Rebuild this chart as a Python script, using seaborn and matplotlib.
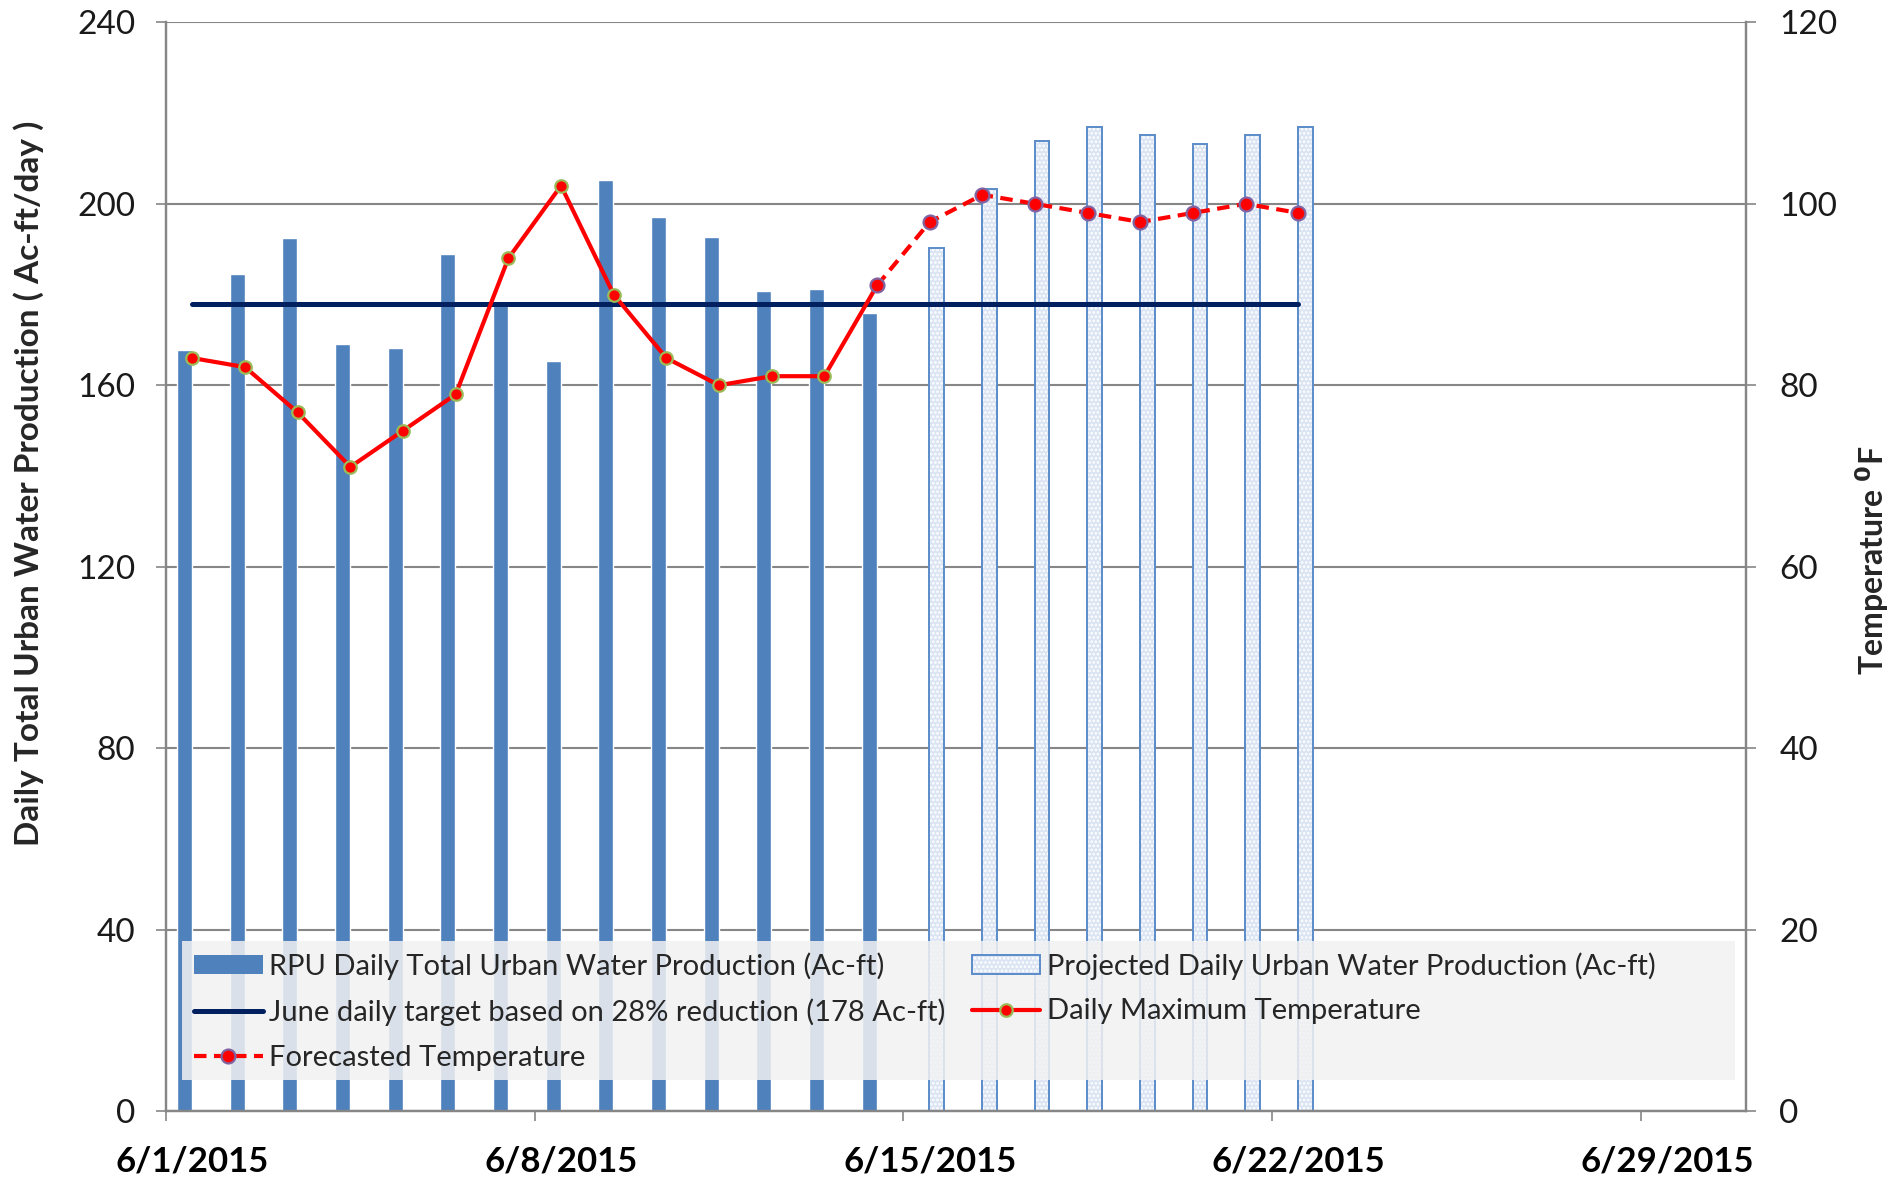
import matplotlib.pyplot as plt
import matplotlib.dates as mdates
from matplotlib.patches import Patch, Rectangle
from matplotlib.legend_handler import HandlerTuple
import pandas as pd
import seaborn as sns

# daily production (Ac-ft)
actual_dates = pd.date_range("2015-06-01", "2015-06-14")
actual_prod = [167.8, 184.5, 192.5, 169.2, 168.2, 189, 178.5, 165.3, 205.2, 197.2, 192.7, 180.8, 181.3, 176]
proj_dates = pd.date_range("2015-06-15", "2015-06-22")
proj_prod = [190.2, 203.2, 213.8, 217, 215.1, 213.3, 215.1, 217]

# temperatures (F)
max_temp_dates = pd.date_range("2015-06-01", "2015-06-14")
max_temp = [83, 82, 77, 71, 75, 79, 94, 102, 90, 83, 80, 81, 81, 91]
fc_dates = pd.date_range("2015-06-14", "2015-06-22")
fc_temp = [91, 98, 101, 100, 99, 98, 99, 100, 99]

# June target
target_dates = pd.date_range("2015-06-01", "2015-06-22")
TARGET = 178

x_ticks = pd.date_range("2015-06-01", "2015-06-29", freq="7D")

lbl_actual = "RPU Daily Total Urban Water Production (Ac-ft)"
lbl_proj = "Projected Daily Urban Water Production (Ac-ft)"
lbl_target = "June daily target based on 28% reduction (178 Ac-ft)"
lbl_max = "Daily Maximum Temperature"
lbl_fc = "Forecasted Temperature"

sns.set_theme(style="white")
plt.rcParams["font.family"] = ["Lato", "DejaVu Sans"]
plt.rcParams["hatch.color"] = "#94b1dc"
plt.rcParams["hatch.linewidth"] = 1.3

BLUE = "#4f81bd"
GRID = "#868686"
PROJ_FACE = "#dae4f3"

fig, ax = plt.subplots(figsize=(19.02, 11.80), dpi=100)
fig.subplots_adjust(left=0.0873, right=0.918, bottom=0.0585, top=0.981)
ax2 = ax.twinx()

# bars sit in the day slot, actual left / projected right
xa = mdates.date2num(actual_dates)
xp = mdates.date2num(proj_dates)
ax.bar(xa + 0.35, actual_prod, width=0.28, color=BLUE, zorder=2)
ax.bar(xp + 0.63, proj_prod, width=0.28, facecolor=PROJ_FACE, hatch="....",
       linewidth=0, zorder=2)
ax.bar(xp + 0.63, proj_prod, width=0.28, fill=False, edgecolor="#5b8cc9",
       linewidth=1.4, zorder=2)

tdf = pd.DataFrame({"x": mdates.date2num(target_dates) + 0.5, "y": [TARGET] * len(target_dates)})
sns.lineplot(data=tdf, x="x", y="y", ax=ax, color="#002060", linewidth=3.6,
             solid_capstyle="round", zorder=3, label=lbl_target)

mdf = pd.DataFrame({"x": mdates.date2num(max_temp_dates) + 0.5, "y": max_temp})
fdf = pd.DataFrame({"x": mdates.date2num(fc_dates) + 0.5, "y": fc_temp})
sns.lineplot(data=mdf, x="x", y="y", ax=ax2, color="red", linewidth=3,
             marker="o", markersize=9, markerfacecolor="red",
             markeredgecolor="#9bbb59", markeredgewidth=1.6, label=lbl_max)
sns.lineplot(data=fdf, x="x", y="y", ax=ax2, color="red", linewidth=3,
             linestyle=(0, (3, 1.8)), marker="o", markersize=10,
             markerfacecolor="red", markeredgecolor="#8064a2",
             markeredgewidth=1.6, label=lbl_fc)

# axes ranges and ticks
ax.set_xlim(mdates.date2num(pd.Timestamp("2015-06-01")), mdates.date2num(pd.Timestamp("2015-07-01")))
ax.set_ylim(0, 240)
ax.set_yticks(range(0, 241, 40))
ax2.set_ylim(0, 120)
ax2.set_yticks(range(0, 121, 20))
# tick marks at the start of the day, labels centred in the day slot
ax.set_xticks(mdates.date2num(x_ticks))
ax.set_xticklabels([])
ax.set_xticks(mdates.date2num(x_ticks) + 0.5, minor=True)
ax.set_xticklabels([f"{d.month}/{d.day}/{d.year}" for d in x_ticks], minor=True,
                   fontweight="bold")

ax.yaxis.grid(True, color=GRID, linewidth=1.5)
ax.set_axisbelow(True)
for a in (ax, ax2):
    for side in ("left", "right", "bottom"):
        a.spines[side].set_color(GRID)
        a.spines[side].set_linewidth(1.6)
    a.spines["top"].set_visible(False)
    a.set_xlabel("")

ax.tick_params(axis="y", direction="out", length=7, width=1.2, color=GRID,
               pad=15, labelsize=24, labelcolor="#1a1a1a", left=True)
ax.tick_params(axis="x", which="major", direction="out", length=7, width=1.2,
               color=GRID, bottom=True)
ax.tick_params(axis="x", which="minor", length=0, pad=25, labelsize=25,
               labelcolor="black", bottom=True)
ax2.tick_params(axis="y", direction="out", length=7, width=1.2, color=GRID,
                pad=17, labelsize=24, labelcolor="#1a1a1a", right=True)

ax.set_ylabel("Daily Total Urban Water Production ( Ac-ft/day )",
              fontsize=24, fontweight="bold")
ax.yaxis.set_label_coords(-0.077, 0.577)
ax2.set_ylabel(r"Temperature $^{\mathbf{0}}$F", fontsize=23, fontweight="bold")
ax2.yaxis.set_label_coords(1.068, 0.506)

# legend panel
ax2.add_patch(Rectangle((0.010, 0.028), 0.983, 0.128, transform=ax2.transAxes,
                        facecolor="#f2f2f2", edgecolor="none", alpha=0.85, zorder=4))
ax.get_legend().remove()
line_target = ax.lines[0]
line_max, line_fc = ax2.lines[0], ax2.lines[1]
h_actual = Patch(facecolor=BLUE, edgecolor="none")
h_proj = (Patch(facecolor=PROJ_FACE, hatch="....", linewidth=0),
          Patch(fill=False, edgecolor="#5b8cc9", linewidth=1.4))
leg = ax2.legend([h_actual, line_target, line_fc, h_proj, line_max],
                 [lbl_actual, lbl_target, lbl_fc, lbl_proj, lbl_max],
                 ncol=2, loc="upper left", bbox_to_anchor=(0.0177, 0.146),
                 frameon=False, fontsize=21, borderpad=0, borderaxespad=0,
                 handlelength=2.35, handleheight=0.6, handletextpad=0.22,
                 columnspacing=0.9, labelspacing=0.64,
                 handler_map={tuple: HandlerTuple(ndivide=1, pad=0)})
leg.set_zorder(5)

plt.savefig("out.png", dpi=100)
plt.close()
